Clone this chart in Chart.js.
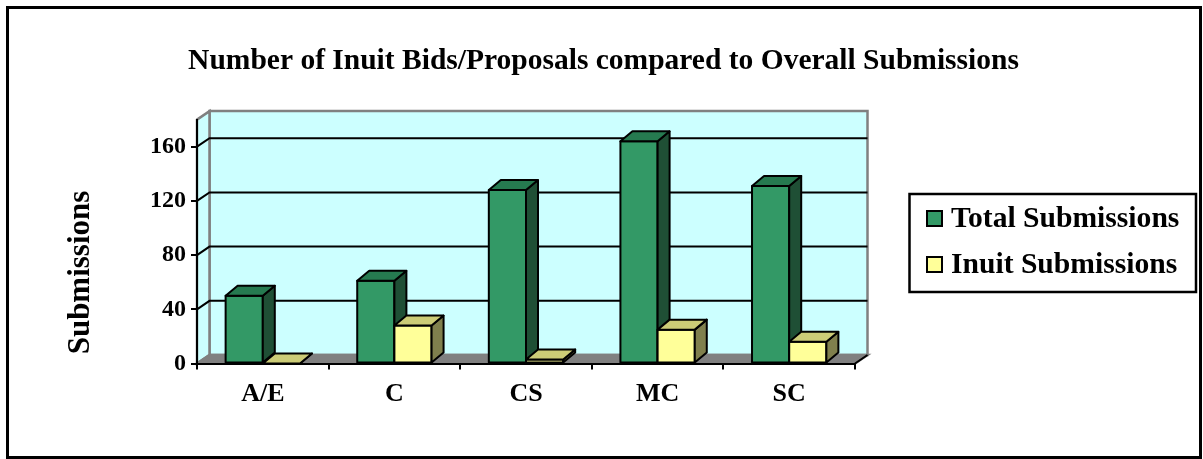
<!DOCTYPE html>
<html>
<head>
<meta charset="utf-8">
<script src="https://cdn.jsdelivr.net/npm/chart.js@4/dist/chart.umd.min.js"></script>
<style>
  body { margin: 0; background: #fff; }
  canvas { display: block; }
</style>
</head>
<body>
<canvas id="chart1" width="1203" height="459"></canvas>
<script>
const categories = ["A/E", "C", "CS", "MC", "SC"];
const totalSubmissions = [50, 61, 128, 164, 131];
const inuitSubmissions = [0, 28, 3, 25, 16];
const yTicks = [0, 40, 80, 120, 160];
const yMax = 180;
const chartTitle = "Number of Inuit Bids/Proposals compared to Overall Submissions";
const yTitle = "Submissions";

const serif = "'Liberation Serif', 'Times New Roman', serif";
// depth of walls/floor and of the bars
const wallDx = 12.5, wallDy = 8.5;
const barDx = 12, barDy = 10;

const faceColors = [
  { front: "#339966", top: "#267a50", side: "#1f4f35" },
  { front: "#ffff99", top: "#cccc77", side: "#80804d" },
];

const threeD = {
  id: "threeD",
  beforeDraw(chart) {
    const ctx = chart.ctx;
    const a = chart.chartArea;
    const y = chart.scales.y;
    ctx.save();
    // back wall
    ctx.fillStyle = "#ccffff";
    ctx.strokeStyle = "#808080";
    ctx.lineWidth = 2.5;
    ctx.beginPath();
    ctx.rect(a.left + wallDx, a.top - wallDy, a.right - a.left, a.bottom - a.top);
    ctx.fill();
    ctx.stroke();
    // side wall
    ctx.beginPath();
    ctx.moveTo(a.left, a.top);
    ctx.lineTo(a.left + wallDx, a.top - wallDy);
    ctx.lineTo(a.left + wallDx, a.bottom - wallDy);
    ctx.lineTo(a.left, a.bottom);
    ctx.closePath();
    ctx.fill();
    ctx.stroke();
    // floor
    ctx.fillStyle = "#808080";
    ctx.beginPath();
    ctx.moveTo(a.left, a.bottom);
    ctx.lineTo(a.right, a.bottom);
    ctx.lineTo(a.right + wallDx, a.bottom - wallDy);
    ctx.lineTo(a.left + wallDx, a.bottom - wallDy);
    ctx.closePath();
    ctx.fill();
    ctx.stroke();
    // gridlines on the side and back wall
    ctx.strokeStyle = "#000";
    ctx.lineWidth = 2;
    y.ticks.forEach((t) => {
      if (t.value === 0) return;
      const py = y.getPixelForValue(t.value);
      ctx.beginPath();
      ctx.moveTo(a.left, py);
      ctx.lineTo(a.left + wallDx, py - wallDy);
      ctx.lineTo(a.right + wallDx, py - wallDy);
      ctx.stroke();
    });
    ctx.restore();
  },
  afterDatasetsDraw(chart) {
    const ctx = chart.ctx;
    ctx.save();
    ctx.strokeStyle = "#000";
    ctx.lineWidth = 2;
    ctx.lineJoin = "round";
    categories.forEach((c, i) => {
      chart.data.datasets.forEach((ds, d) => {
        const bar = chart.getDatasetMeta(d).data[i];
        const p = bar.getProps(["x", "y", "base", "width"], true);
        const l = p.x - p.width / 2, r = p.x + p.width / 2;
        const col = faceColors[d];
        // front
        ctx.fillStyle = col.front;
        ctx.beginPath();
        ctx.rect(l, p.y, r - l, p.base - p.y);
        ctx.fill();
        ctx.stroke();
        // side
        ctx.fillStyle = col.side;
        ctx.beginPath();
        ctx.moveTo(r, p.y);
        ctx.lineTo(r + barDx, p.y - barDy);
        ctx.lineTo(r + barDx, p.base - barDy);
        ctx.lineTo(r, p.base);
        ctx.closePath();
        ctx.fill();
        ctx.stroke();
        // top
        ctx.fillStyle = col.top;
        ctx.beginPath();
        ctx.moveTo(l, p.y);
        ctx.lineTo(r, p.y);
        ctx.lineTo(r + barDx, p.y - barDy);
        ctx.lineTo(l + barDx, p.y - barDy);
        ctx.closePath();
        ctx.fill();
        ctx.stroke();
      });
    });
    ctx.restore();
  },
  afterDraw(chart) {
    const ctx = chart.ctx;
    const a = chart.chartArea;
    ctx.save();
    // right end of the floor edge
    ctx.strokeStyle = "#000";
    ctx.lineWidth = 2;
    ctx.beginPath();
    ctx.moveTo(a.right, a.bottom);
    ctx.lineTo(a.right + wallDx, a.bottom - wallDy);
    ctx.stroke();

    // title
    ctx.fillStyle = "#000";
    ctx.font = "bold 29.5px " + serif;
    ctx.textAlign = "center";
    ctx.textBaseline = "alphabetic";
    ctx.fillText(chartTitle, 603.5, 68.5);

    // y axis title
    ctx.save();
    ctx.translate(81, 272.5);
    ctx.rotate(-Math.PI / 2);
    ctx.font = "bold 31px " + serif;
    ctx.textBaseline = "middle";
    ctx.fillText(yTitle, 0, 0);
    ctx.restore();

    // legend
    ctx.fillStyle = "#fff";
    ctx.lineWidth = 2.5;
    ctx.beginPath();
    ctx.rect(909.5, 194, 286.5, 98);
    ctx.fill();
    ctx.stroke();
    ctx.font = "bold 29.6px " + serif;
    ctx.textBaseline = "alphabetic";
    ctx.textAlign = "left";
    chart.data.datasets.forEach((ds, d) => {
      const top = 211 + d * 46;
      ctx.fillStyle = ds.backgroundColor;
      ctx.lineWidth = 2;
      ctx.beginPath();
      ctx.rect(927, top, 15, 15);
      ctx.fill();
      ctx.stroke();
      ctx.fillStyle = "#000";
      ctx.fillText(ds.label, 951, top + 16);
    });

    // outer frame
    ctx.lineWidth = 3;
    ctx.strokeRect(7.5, 7.5, 1193, 450);
    ctx.restore();
  },
};

new Chart(document.getElementById("chart1").getContext("2d"), {
  type: "bar",
  data: {
    labels: categories,
    datasets: [
      {
        label: "Total Submissions",
        data: totalSubmissions,
        backgroundColor: faceColors[0].front,
        borderColor: "#000",
        borderWidth: 2,
        borderSkipped: false,
        barPercentage: 1,
        categoryPercentage: 0.565,
      },
      {
        label: "Inuit Submissions",
        data: inuitSubmissions,
        backgroundColor: faceColors[1].front,
        borderColor: "#000",
        borderWidth: 2,
        borderSkipped: false,
        barPercentage: 1,
        categoryPercentage: 0.565,
      },
    ],
  },
  options: {
    responsive: false,
    animation: false,
    layout: { padding: { left: 0, right: 348, top: 119.6, bottom: 0 } },
    plugins: {
      legend: { display: false },
      tooltip: { enabled: false },
      title: { display: false },
    },
    scales: {
      x: {
        grid: {
          offset: true,
          drawOnChartArea: false,
          drawTicks: true,
          tickLength: 6,
          color: "#000",
          lineWidth: 2,
        },
        border: { display: true, color: "#000", width: 2 },
        ticks: {
          color: "#000",
          font: { family: serif, size: 26, weight: "bold" },
          padding: 9,
          maxRotation: 0,
        },
        afterFit(scale) {
          scale.height = 95.5;
        },
      },
      y: {
        min: 0,
        max: yMax,
        afterBuildTicks(scale) {
          scale.ticks = yTicks.map((v) => ({ value: v }));
        },
        afterFit(scale) {
          scale.width = 197;
        },
        grid: {
          drawOnChartArea: false,
          drawTicks: true,
          tickLength: 6,
          color: "#000",
          lineWidth: 2,
        },
        border: { display: true, color: "#000", width: 2 },
        ticks: {
          color: "#000",
          font: { family: serif, size: 24, weight: "bold" },
          padding: 5,
        },
      },
    },
  },
  plugins: [threeD],
});
</script>
</body>
</html>
